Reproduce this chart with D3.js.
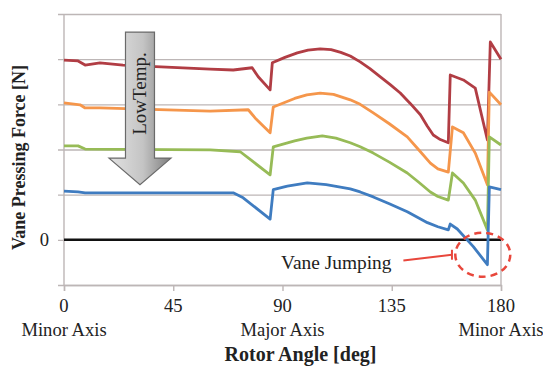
<!DOCTYPE html>
<html>
<head>
<meta charset="utf-8">
<script src="https://cdn.jsdelivr.net/npm/d3@7"></script>
<style>
    body { margin: 0; background: #fff; }
    text { font-family: "Liberation Serif", "Times New Roman", serif; fill: #222; }
</style>
</head>
<body>
<div id="chart"></div>
<script>
// rotor angle [deg], vane pressing force [grid units]
let redForce = [[0, 3.98], [5.8, 3.96], [8.7, 3.87], [14.8, 3.92], [24.3, 3.87], [60.2, 3.78], [69.7, 3.76],
    [77.5, 3.81], [80, 3.61], [84.9, 3.32], [85.8, 3.92], [91, 4.04], [96.1, 4.14], [100.5, 4.20], [105.5, 4.23],
    [110, 4.21], [114, 4.15], [117.9, 4.07], [122, 3.94], [126, 3.79], [130.3, 3.61], [134.5, 3.43], [138.5, 3.25],
    [142.6, 3.02], [146.8, 2.77], [149.6, 2.52], [152.1, 2.32], [155, 2.22], [158.3, 2.15], [159.1, 3.65],
    [164.5, 3.54], [169.4, 3.36], [174.4, 2.21], [175.6, 4.38], [180, 4.0]];

let orangeForce = [[0, 3.03], [6.6, 2.99], [8.7, 2.92], [14.8, 2.92], [60.2, 2.85], [75.9, 2.88], [78.7, 2.70],
    [84.9, 2.37], [86.2, 2.94], [95, 3.13], [100, 3.21], [105.5, 3.25], [111, 3.22], [117.9, 3.10], [122, 3.0],
    [127.4, 2.81], [134, 2.57], [141.4, 2.28], [146, 2.0], [150.9, 1.70], [154, 1.57], [158.3, 1.50],
    [160, 2.50], [164.5, 2.37], [169.4, 1.92], [174.4, 1.22], [175.2, 3.27], [180, 2.99]];

let greenForce = [[0, 2.08], [5.8, 2.08], [8.7, 2.01], [60.2, 1.99], [72.6, 1.95], [77.9, 1.73], [84.9, 1.44],
    [86.2, 2.06], [95, 2.19], [100, 2.25], [106.4, 2.30], [112, 2.25], [117.9, 2.15], [122, 2.06], [127.4, 1.92],
    [134, 1.72], [141.4, 1.48], [146, 1.28], [150.9, 1.06], [154, 0.96], [158.3, 0.88],
    [160, 1.48], [164.5, 1.26], [169.4, 0.88], [174.4, 0.22], [175.2, 2.28], [180, 2.10]];

let blueForce = [[0, 1.08], [5.8, 1.06], [8.7, 1.04], [60.2, 1.04], [69.7, 1.04], [73.8, 0.93], [84.9, 0.46],
    [86.2, 1.11], [92, 1.19], [100.2, 1.26], [108, 1.22], [117.9, 1.13], [122, 1.06], [127.4, 0.95], [134, 0.80],
    [141.4, 0.62], [149.7, 0.38], [154, 0.29], [158.3, 0.22], [159.1, 0.35], [162, 0.24], [168.6, -0.15],
    [174.4, -0.55], [175.2, 1.17], [180, 1.11]];

let seriesColors = ['#b13d44', '#f5964b', '#97bb57', '#3f7cc0'];
let xTicks = [0, 45, 90, 135, 180];
let xTickNames = ['Minor Axis', '', 'Major Axis', '', 'Minor Axis'];
let yGrid = [-1, 0, 1, 2, 3, 4, 5];

class ForceChart {
    constructor(_parentElement) {
        this.parentElement = _parentElement;
        this.data = [redForce, orangeForce, greenForce, blueForce];
        this.initVis();
    }

    initVis() {
        let vis = this;
        vis.margin = { top: 14, right: 42, bottom: 83, left: 64 };
        vis.width = 543 - vis.margin.left - vis.margin.right;
        vis.height = 368 - vis.margin.top - vis.margin.bottom;

        vis.svg = d3.select("#" + vis.parentElement).append("svg")
            .attr("width", 543)
            .attr("height", 368)
            .append("g")
            .attr("transform", "translate(" + vis.margin.left + "," + vis.margin.top + ")");

        vis.x = d3.scaleLinear().domain([0, 180]).range([0, vis.width]);
        vis.y = d3.scaleLinear().domain([-1, 5]).range([vis.height, 0]);

        // grid + y ticks
        vis.svg.append("g")
            .attr("class", "y-axis")
            .call(d3.axisLeft(vis.y).tickValues(yGrid).tickSize(-vis.width).tickFormat(""))
            .call(g => g.select(".domain").remove())
            .call(g => g.selectAll("line").attr("stroke", "#bdb6b6").attr("stroke-width", 1.4)
                .attr("x1", -6));

        vis.svg.append("line")
            .attr("x1", vis.width).attr("x2", vis.width)
            .attr("y1", 0).attr("y2", vis.height)
            .attr("stroke", "#bdb6b6").attr("stroke-width", 1.4);

        vis.svg.append("line")
            .attr("x1", 0).attr("x2", 0)
            .attr("y1", 0).attr("y2", vis.height)
            .attr("stroke", "#bdb6b6").attr("stroke-width", 1.4);

        vis.svg.append("text")
            .attr("x", -15).attr("y", vis.y(0) + 6)
            .attr("text-anchor", "end")
            .style("font-size", "18.6px")
            .text("0");

        // x axis
        vis.xAxis = vis.svg.append("g")
            .attr("class", "x-axis")
            .attr("transform", "translate(0," + vis.height + ")")
            .call(d3.axisBottom(vis.x).tickValues(xTicks).tickSize(6).tickFormat(""));
        vis.xAxis.selectAll("line, path").attr("stroke", "#bdb6b6").attr("stroke-width", 1.4);

        vis.svg.selectAll(".tick-num")
            .data(xTicks)
            .enter().append("text")
            .attr("x", d => vis.x(d)).attr("y", vis.height + 27)
            .attr("text-anchor", "middle")
            .style("font-size", "18.6px")
            .text(d => d);

        vis.svg.selectAll(".tick-name")
            .data(xTicks)
            .enter().append("text")
            .attr("x", d => vis.x(d)).attr("y", vis.height + 51)
            .attr("text-anchor", "middle")
            .style("font-size", "18.6px")
            .text((d, i) => xTickNames[i]);

        vis.svg.append("text")
            .attr("x", vis.width / 2 + 18).attr("y", vis.height + 76)
            .attr("text-anchor", "middle")
            .style("font-size", "20px").style("font-weight", "bold")
            .text("Rotor Angle [deg]");

        vis.svg.append("text")
            .attr("transform", "translate(" + (-39) + "," + (vis.height / 2 + 8) + ") rotate(-90)")
            .attr("text-anchor", "middle")
            .style("font-size", "18px").style("font-weight", "bold")
            .text("Vane Pressing Force [N]");

        vis.updateVis();
    }

    updateVis() {
        let vis = this;

        // zero line
        vis.svg.append("line")
            .attr("x1", 0).attr("x2", vis.width)
            .attr("y1", vis.y(0)).attr("y2", vis.y(0))
            .attr("stroke", "#111").attr("stroke-width", 2.5);

        let line = d3.line()
            .x(d => vis.x(d[0]))
            .y(d => vis.y(d[1]));

        vis.svg.selectAll(".force")
            .data(vis.data)
            .enter().append("path")
            .attr("class", "force")
            .attr("d", line)
            .attr("fill", "none")
            .attr("stroke", (d, i) => seriesColors[i])
            .attr("stroke-width", 2.8)
            .attr("stroke-linejoin", "round");

        // LowTemp. arrow
        let defs = vis.svg.append("defs");
        let grad = defs.append("linearGradient").attr("id", "arrowGrad")
            .attr("x1", "0%").attr("x2", "100%").attr("y1", "0%").attr("y2", "0%");
        grad.append("stop").attr("offset", "0%").attr("stop-color", "#e2e2e2");
        grad.append("stop").attr("offset", "55%").attr("stop-color", "#c4c4c4");
        grad.append("stop").attr("offset", "100%").attr("stop-color", "#7d7d7d");

        let ax = vis.x(31.3), top = vis.y(4.6), base = vis.y(1.81), tip = vis.y(1.22);
        let arrow = [[ax - 14.5, top], [ax + 14.5, top], [ax + 14.5, base], [ax + 31, base],
            [ax, tip], [ax - 31, base], [ax - 14.5, base]];
        vis.svg.append("path")
            .attr("d", "M" + arrow.join("L") + "Z")
            .attr("fill", "url(#arrowGrad)")
            .attr("stroke", "#6a6a6a").attr("stroke-width", 1.2);

        vis.svg.append("text")
            .attr("transform", "translate(" + (ax + 6) + "," + vis.y(3.24) + ") rotate(-90)")
            .attr("text-anchor", "middle")
            .style("font-size", "19px")
            .text("LowTemp.");

        // Vane Jumping annotation
        vis.svg.append("text")
            .attr("x", vis.x(89.4)).attr("y", vis.y(-0.64))
            .style("font-size", "19.4px")
            .text("Vane Jumping");

        vis.svg.append("line")
            .attr("x1", vis.x(139.8)).attr("y1", vis.y(-0.46))
            .attr("x2", vis.x(159.8)).attr("y2", vis.y(-0.33))
            .attr("stroke", "#e8473c").attr("stroke-width", 2);
        vis.svg.append("line")
            .attr("x1", vis.x(159.8)).attr("y1", vis.y(-0.22))
            .attr("x2", vis.x(159.8)).attr("y2", vis.y(-0.44))
            .attr("stroke", "#e8473c").attr("stroke-width", 2);

        vis.svg.append("ellipse")
            .attr("cx", vis.x(172.5)).attr("cy", vis.y(-0.33))
            .attr("rx", 27.5).attr("ry", 22)
            .attr("fill", "none")
            .attr("stroke", "#e8473c").attr("stroke-width", 2.5)
            .attr("stroke-dasharray", "7,5");
    }
}

new ForceChart("chart");
</script>
</body>
</html>
